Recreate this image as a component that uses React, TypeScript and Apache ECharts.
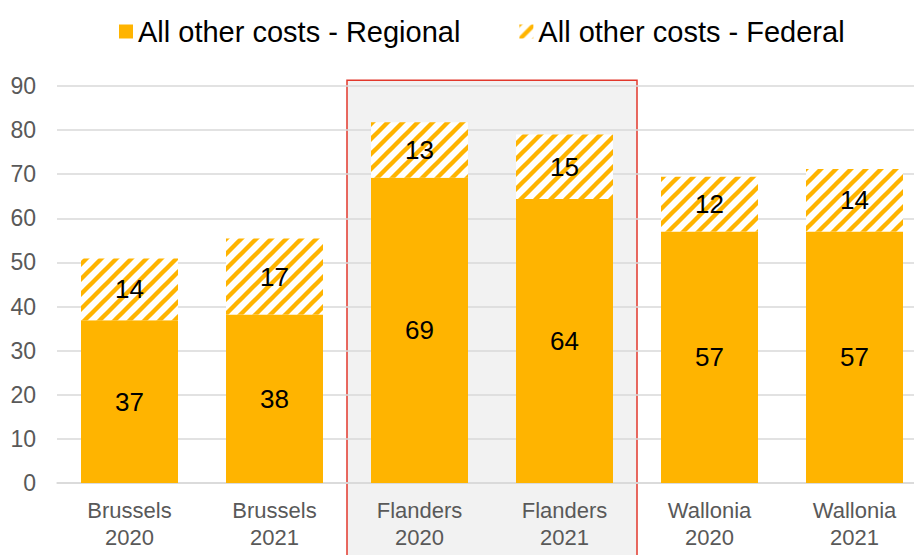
import React, { useEffect, useRef } from "react";
import * as echarts from "echarts";

const categories = ["Brussels\n2020", "Brussels\n2021", "Flanders\n2020", "Flanders\n2021", "Wallonia\n2020", "Wallonia\n2021"];
const regional = [36.9, 38.2, 69.2, 64.4, 57.0, 57.0];
const federal = [14.0, 17.2, 12.6, 14.6, 12.4, 14.2];
const yTicks = { min: 0, max: 90, interval: 10 };
const seriesNames = ["All other costs - Regional", "All other costs - Federal"];
const highlight = { fromIndex: 2, toIndex: 3, topValue: 91.3 };

const ORANGE = "#FFB400";

function makeHatch(): HTMLCanvasElement {
  const P = 15;
  const c = document.createElement("canvas");
  c.width = P;
  c.height = P;
  const ctx = c.getContext("2d")!;
  ctx.fillStyle = "#ffffff";
  ctx.fillRect(0, 0, P, P);
  ctx.strokeStyle = ORANGE;
  ctx.lineWidth = 4.4;
  for (const k of [0, 1, 2]) {
    const s = k * P; // x + y = s
    ctx.beginPath();
    ctx.moveTo(s + 5, -5);
    ctx.lineTo(s - P - 5, P + 5);
    ctx.stroke();
  }
  return c;
}

export default function App() {
  const ref = useRef<HTMLDivElement>(null);
  useEffect(() => {
    if (!ref.current) return;
    const chart = echarts.init(ref.current, undefined, { renderer: "svg" });
    const hatch = makeHatch();
    const font = "'Liberation Sans', Arial, sans-serif";
    const labelOpt = {
      show: true,
      position: "inside",
      color: "#000",
      fontSize: 26,
      fontFamily: font,
      formatter: (p: any) => String(Math.round(p.value)),
    };
    chart.setOption({
      animation: false,
      textStyle: { fontFamily: font },
      legend: {
        left: 114,
        top: 12,
        itemWidth: 14,
        itemHeight: 14,
        itemGap: 59,
        icon: "rect",
        textStyle: { fontSize: 29, color: "#000", fontFamily: font, padding: [0, 0, 0, 0] },
        data: seriesNames,
      },
      grid: { left: 57, width: 870, top: 86, bottom: 72, outerBoundsMode: "none", containLabel: false },
      xAxis: {
        type: "category",
        data: categories,
        axisLine: { lineStyle: { color: "#D9D9D9", width: 1.5 } },
        axisTick: { show: false },
        axisLabel: { color: "#595959", fontSize: 22, lineHeight: 27, margin: 14, fontFamily: font },
      },
      yAxis: {
        type: "value",
        min: yTicks.min,
        max: yTicks.max,
        interval: yTicks.interval,
        axisLine: { show: false },
        axisTick: { show: false },
        splitLine: { lineStyle: { color: "#D9D9D9", width: 1.5 } },
        axisLabel: { color: "#595959", fontSize: 23, margin: 21, fontFamily: font },
      },
      series: [
        {
          name: seriesNames[0],
          type: "bar",
          stack: "a",
          barWidth: 97,
          data: regional,
          itemStyle: { color: ORANGE },
          label: labelOpt,
        },
        {
          name: seriesNames[1],
          type: "bar",
          stack: "a",
          barWidth: 97,
          data: federal,
          itemStyle: { color: { image: hatch, repeat: "repeat" } as any },
          label: labelOpt,
        },
      ],
    });
    const c0 = chart.convertToPixel({ xAxisIndex: 0 }, highlight.fromIndex) as number;
    const c1 = chart.convertToPixel({ xAxisIndex: 0 }, highlight.fromIndex + 1) as number;
    const cEnd = chart.convertToPixel({ xAxisIndex: 0 }, highlight.toIndex) as number;
    const band = c1 - c0;
    const yTop = chart.convertToPixel({ yAxisIndex: 0 }, highlight.topValue) as number;
    const h = chart.getHeight();
    chart.setOption({
      graphic: [
        {
          type: "rect",
          z: -1,
          silent: true,
          shape: { x: c0 - band / 2, y: yTop, width: cEnd - c0 + band, height: h - yTop + 5 },
          style: { fill: "#F2F2F2", stroke: "#E2382C", lineWidth: 1.5 },
        },
      ],
    });
    return () => chart.dispose();
  }, []);
  return (
    <div
      ref={ref}
      style={{ position: "fixed", left: 0, top: 0, width: 914, height: 555, background: "#fff" }}
    />
  );
}
